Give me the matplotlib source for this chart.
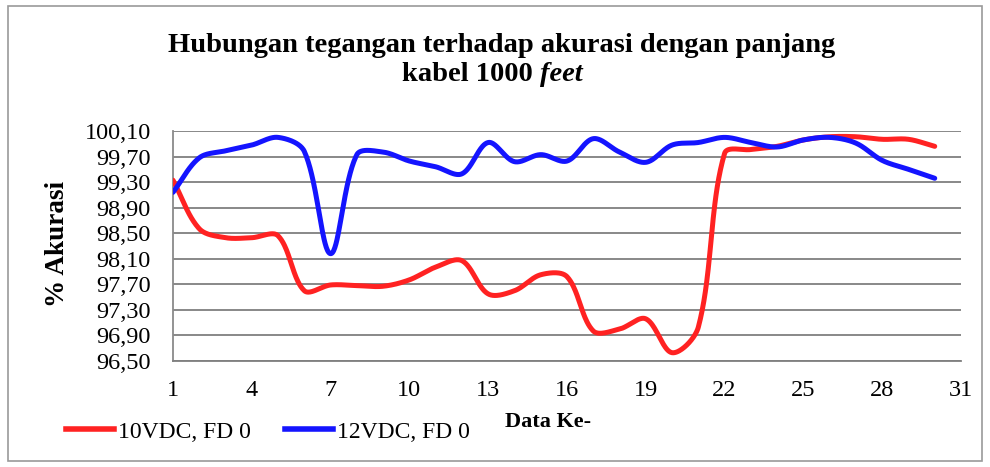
import numpy as np
import matplotlib
matplotlib.use("Agg")
import matplotlib.pyplot as plt
from matplotlib.lines import Line2D
from matplotlib.patches import Rectangle

# Measurement index (Data Ke-)
data_index = list(range(1, 31))

# Accuracy (%) for 10 VDC supply, FD 0
acc_10vdc = [99.33, 98.57, 98.43, 98.43, 98.46, 97.60, 97.69, 97.68, 97.67, 97.77,
             97.97, 98.07, 97.55, 97.60, 97.85, 97.82, 96.97, 97.00, 97.16, 96.63,
             97.03, 99.75, 99.81, 99.86, 99.96, 100.01, 100.01, 99.97, 99.97, 99.86]

# Accuracy (%) for 12 VDC supply, FD 0
acc_12vdc = [99.14, 99.68, 99.79, 99.88, 100.00, 99.78, 98.18, 99.73, 99.77, 99.63,
             99.54, 99.43, 99.92, 99.62, 99.73, 99.63, 99.98, 99.77, 99.61, 99.88,
             99.92, 100.00, 99.92, 99.85, 99.96, 100.00, 99.91, 99.64, 99.50, 99.36]

y_ticks = [96.50, 96.90, 97.30, 97.70, 98.10, 98.50, 98.90, 99.30, 99.70, 100.10]
x_ticks = [1, 4, 7, 10, 13, 16, 19, 22, 25, 28, 31]

series_labels = ["10VDC, FD 0", "12VDC, FD 0"]
series_colors = ["#ff2222", "#1414ff"]

W, H = 990, 467
AX_L, AX_R, AX_T, AX_B = 173, 961, 131, 361
XLIM = (1, 31)
YLIM = (96.5, 100.1)


def smooth_curve(xs, ys, n=40):
    """Length-weighted cubic Bezier through every point, built in pixel space."""
    sx = (AX_R - AX_L) / (XLIM[1] - XLIM[0])
    sy = (AX_B - AX_T) / (YLIM[1] - YLIM[0])
    p = np.column_stack([np.asarray(xs, float) * sx, np.asarray(ys, float) * sy])
    ext = np.vstack([p[0], p, p[-1]])
    out = []
    t = np.linspace(0, 1, n)[:, None]
    for i in range(1, len(ext) - 2):
        p0, p1, p2, p3 = ext[i - 1], ext[i], ext[i + 1], ext[i + 2]
        d01 = np.hypot(*(p1 - p0))
        d12 = np.hypot(*(p2 - p1))
        d23 = np.hypot(*(p3 - p2))
        f1 = d12 / (d01 + d12) / 3.0 if d01 + d12 > 0 else 0.0
        f2 = d12 / (d12 + d23) / 3.0 if d12 + d23 > 0 else 0.0
        c1 = p1 + (p2 - p0) * f1
        c2 = p2 - (p3 - p1) * f2
        seg = ((1 - t) ** 3) * p1 + 3 * ((1 - t) ** 2) * t * c1 \
            + 3 * (1 - t) * t ** 2 * c2 + t ** 3 * p2
        out.append(seg if i == 1 else seg[1:])
    pts = np.vstack(out)
    return pts[:, 0] / sx, pts[:, 1] / sy


plt.rcParams["font.family"] = ["Liberation Serif", "DejaVu Serif"]

fig = plt.figure(figsize=(W / 100, H / 100), dpi=100)
fig.patch.set_facecolor("white")

# chart-area border
fig.add_artist(Rectangle((8 / W, 6 / H), 974 / W, 455 / H,
                         transform=fig.transFigure, fill=False,
                         edgecolor="#9a9a9a", linewidth=1.2))

ax = fig.add_axes([AX_L / W, 1 - AX_B / H, (AX_R - AX_L) / W, (AX_B - AX_T) / H])
ax.set_facecolor("none")

for vals, col in zip([acc_10vdc, acc_12vdc], series_colors):
    cx, cy = smooth_curve(data_index, vals)
    ax.plot(cx, cy, color=col, linewidth=3.6, solid_capstyle="round", zorder=3)

ax.set_xlim(*XLIM)
ax.set_ylim(*YLIM)
ax.set_yticks(y_ticks)
ax.set_yticklabels([f"{v:.2f}".replace(".", ",") for v in y_ticks])
ax.set_xticks(x_ticks)
ax.set_xticklabels([str(v) for v in x_ticks])
ax.yaxis.grid(True, color="#7f7f7f", linewidth=1.3)
ax.xaxis.grid(False)
ax.set_axisbelow(True)
for side in ["top", "right"]:
    ax.spines[side].set_visible(False)
ax.spines["left"].set_color("#8a8a8a")
ax.spines["bottom"].set_color("#7f7f7f")
ax.spines["left"].set_linewidth(1.3)
ax.spines["bottom"].set_linewidth(1.3)
ax.tick_params(axis="both", length=0, labelsize=17.5, colors="black")
ax.tick_params(axis="x", pad=14)
ax.tick_params(axis="y", pad=16)

# title, second line mixes bold and bold-italic
fig.text(502 / W, 1 - 46 / H, "Hubungan tegangan terhadap akurasi dengan panjang",
         ha="center", va="center", fontsize=20.5, fontweight="bold")
renderer = fig.canvas.get_renderer()
t_a = fig.text(0, 0, "kabel 1000 ", ha="left", va="baseline",
               fontsize=20.5, fontweight="bold")
t_b = fig.text(0, 0, "feet", ha="left", va="baseline",
               fontsize=20.5, fontweight="bold", fontstyle="italic")
wa = t_a.get_window_extent(renderer).width
wb = t_b.get_window_extent(renderer).width
x_start = 492 - (wa + wb) / 2
for txt, xpos in ((t_a, x_start), (t_b, x_start + wa)):
    txt.set_x(xpos / W)
    txt.set_y(1 - 81 / H)

fig.text(57 / W, 1 - 244 / H, "% Akurasi", rotation=90, ha="center",
         va="center", fontsize=19.5, fontweight="bold")
fig.text(548 / W, 1 - 422 / H, "Data Ke-", ha="center", va="center",
         fontsize=16, fontweight="bold")

handles = [Line2D([], [], color=c, linewidth=4) for c in series_colors]
fig.legend(handles, series_labels, loc="center left",
           bbox_to_anchor=(66 / W, 1 - 432 / H), ncol=2, frameon=False,
           fontsize=17, handlelength=2.05, handletextpad=0.15, columnspacing=1.45,
           borderaxespad=0, borderpad=0)

fig.savefig("out.png", dpi=100)
